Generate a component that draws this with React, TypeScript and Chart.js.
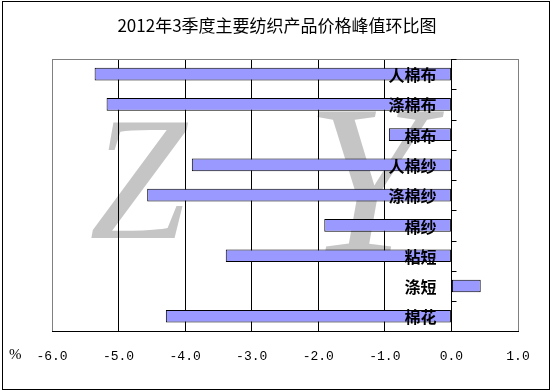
import React, { useEffect, useRef } from "react";
import { Chart, registerables } from "chart.js";

Chart.register(...registerables);

const title = "2012年3季度主要纺织产品价格峰值环比图";
const categories = ["人棉布", "涤棉布", "棉布", "人棉纱", "涤棉纱", "棉纱", "粘短", "涤短", "棉花"];
const values = [-5.36, -5.18, -0.94, -3.9, -4.57, -1.91, -3.39, 0.44, -4.29];
const xMin = -6;
const xMax = 1;
const xStep = 1;
const unitLabel = "%";

const decorPlugin = {
  id: "decor",
  beforeDraw(chart: any) {
    const ctx = chart.ctx;
    ctx.save();
    ctx.fillStyle = "#ffffff";
    ctx.fillRect(0, 0, chart.width, chart.height);
    // watermark
    ctx.fillStyle = "rgba(150,150,150,0.55)";
    ctx.textAlign = "center";
    ctx.textBaseline = "alphabetic";
    ctx.font = "italic 175px 'Liberation Serif'";
    ctx.fillText("Z", 138, 238);
    ctx.font = "italic 215px 'Liberation Serif'";
    ctx.fillText("Y", 365, 252);
    ctx.restore();
  },
  beforeDatasetsDraw(chart: any) {
    const ctx = chart.ctx;
    const a = chart.chartArea;
    ctx.save();
    ctx.strokeStyle = "#808080";
    ctx.lineWidth = 1;
    ctx.beginPath();
    ctx.moveTo(a.left, a.top + 0.5);
    ctx.lineTo(a.right, a.top + 0.5);
    ctx.stroke();
    ctx.restore();
  },
  afterDatasetsDraw(chart: any) {
    const ctx = chart.ctx;
    const a = chart.chartArea;
    const xs = chart.scales.x;
    const ys = chart.scales.y;
    const x0 = Math.round(xs.getPixelForValue(0)) + 0.5;
    ctx.save();
    ctx.strokeStyle = "#000";
    ctx.lineWidth = 1;
    ctx.beginPath();
    ctx.moveTo(x0, a.top);
    ctx.lineTo(x0, a.bottom);
    for (let i = 0; i < categories.length; i++) {
      const y = Math.round(ys.getPixelForValue(i - 0.5)) + 0.5;
      ctx.moveTo(x0, y);
      ctx.lineTo(x0 + 5, y);
    }
    ctx.stroke();
    // category labels
    ctx.fillStyle = "#000";
    ctx.textAlign = "right";
    ctx.textBaseline = "middle";
    ctx.font = "bold 16px 'Noto Sans CJK SC'";
    categories.forEach((c, i) => {
      const y = ys.getPixelForValue(i);
      ctx.fillText(c, x0 - 15, y + 1);
    });
    ctx.restore();
  },
  afterDraw(chart: any) {
    const ctx = chart.ctx;
    ctx.save();
    ctx.fillStyle = "#000";
    ctx.textAlign = "center";
    ctx.textBaseline = "middle";
    ctx.font = "17px 'Noto Sans CJK SC'";
    ctx.fillText(title, 277, 26);
    ctx.textAlign = "left";
    ctx.font = "15px 'Liberation Serif'";
    ctx.fillText(unitLabel, 9, 355);
    ctx.strokeStyle = "#000";
    ctx.lineWidth = 1;
    ctx.strokeRect(2.5, 1.5, 547, 388);
    ctx.restore();
  },
};

export default function App() {
  const ref = useRef<HTMLCanvasElement>(null);
  useEffect(() => {
    if (!ref.current) return;
    const chart = new Chart(ref.current, {
      type: "bar",
      data: {
        labels: categories,
        datasets: [
          {
            data: values,
            backgroundColor: "#9999FF",
            borderColor: "#000000",
            borderWidth: 1,
            borderSkipped: false,
            categoryPercentage: 1,
            barPercentage: 0.42,
          },
        ],
      },
      options: {
        indexAxis: "y",
        animation: false,
        responsive: false,
        devicePixelRatio: 1,
        layout: { padding: { left: 52, right: 34, top: 59, bottom: 10 } },
        plugins: {
          legend: { display: false },
          tooltip: { enabled: false },
          title: { display: false },
        },
        scales: {
          x: {
            type: "linear",
            min: xMin,
            max: xMax,
            ticks: {
              stepSize: xStep,
              callback: (v: any) => Number(v).toFixed(1),
              font: { family: "'Liberation Mono'", size: 13 },
              color: "#000",
              padding: 17,
            },
            grid: {
              color: (c: any) =>
                c.tick && (c.tick.value === xMin || c.tick.value === xMax) ? "#808080" : "#000000",
              drawTicks: false,
              lineWidth: 1,
            },
            border: { display: true, color: "#000000" },
          },
          y: {
            type: "category",
            display: false,
          },
        },
      },
      plugins: [decorPlugin],
    } as any);
    return () => chart.destroy();
  }, []);
  return (
    <div style={{ position: "fixed", left: 0, top: 0, width: 552, height: 391, background: "#fff" }}>
      <canvas ref={ref} width={552} height={391} style={{ display: "block" }} />
    </div>
  );
}
